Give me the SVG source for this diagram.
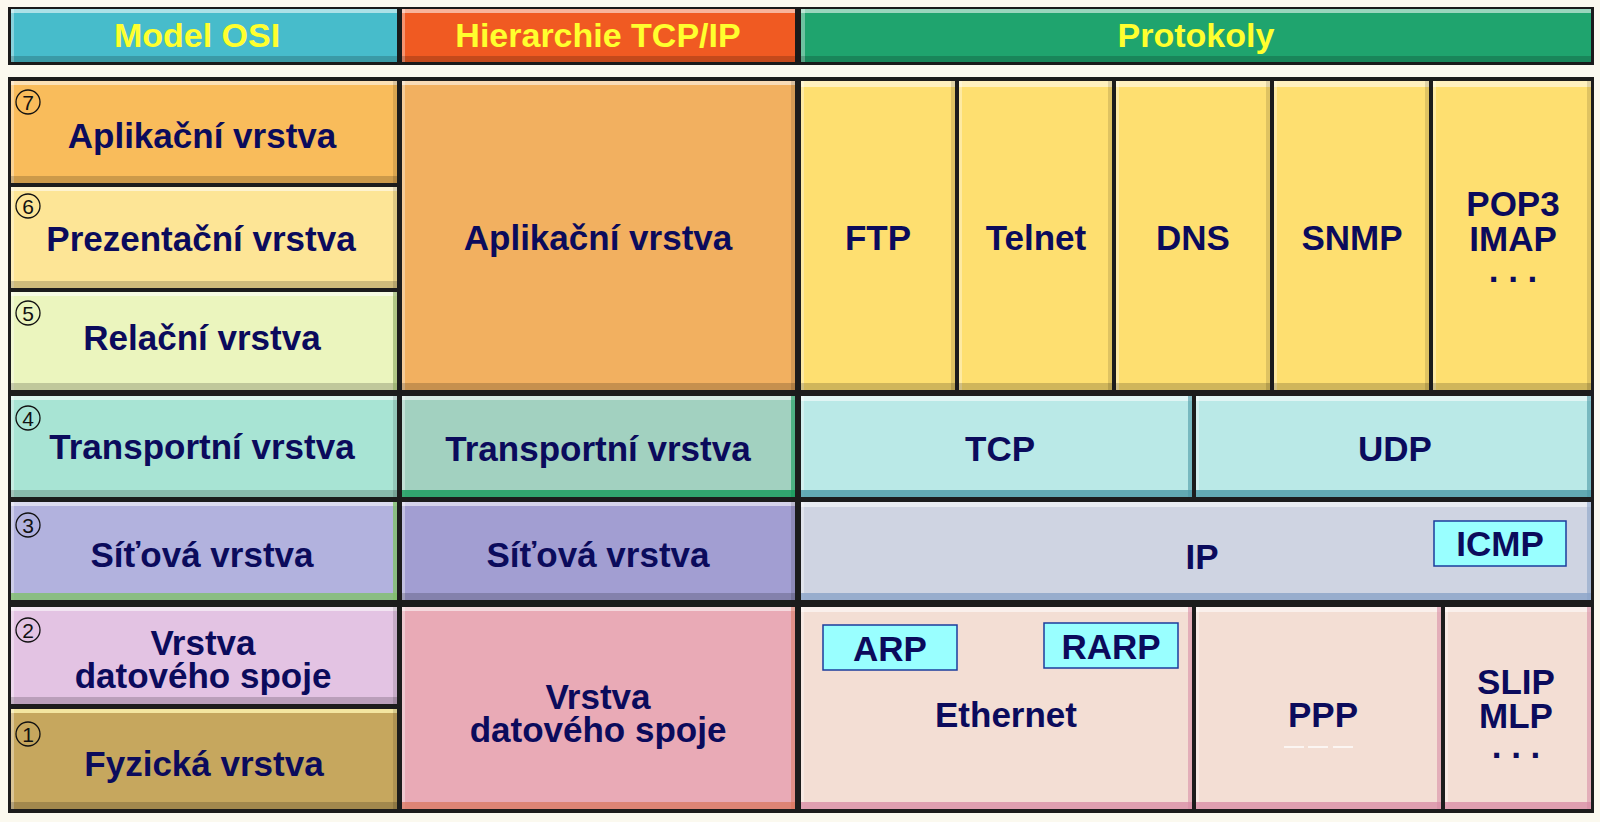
<svg xmlns="http://www.w3.org/2000/svg" width="1600" height="822" viewBox="0 0 1600 822">
<style>
.t{font-family:"Liberation Sans",Arial,sans-serif;font-weight:bold;font-size:35px;fill:#0b0b5c;text-anchor:middle}
.h{font-family:"Liberation Sans",Arial,sans-serif;font-weight:bold;font-size:34px;fill:#ffff2e;text-anchor:middle}
.n{font-family:"Liberation Sans",Arial,sans-serif;font-size:21px;fill:#111;text-anchor:middle}
.ci{fill:none;stroke:#111;stroke-width:1.3}
.hi{fill:#ffffff;opacity:.55}
.hl{fill:#ffffff;opacity:.35}
.sd{fill:#000000;opacity:.18}
.sr{fill:#000000;opacity:.12}
.bx{fill:#99ffff;stroke:#1c3c9c;stroke-width:1.5}
</style>
<rect x="0" y="0" width="1600" height="822" fill="#fbf9ef"/>

<!-- header -->
<rect x="8" y="7" width="1586" height="58" fill="#1a1a1a"/>
<g id="h-osi">
<rect x="11" y="9" width="386" height="53" fill="#47bccb"/>
<rect class="hi" x="11" y="9" width="386" height="4"/><rect class="hl" x="11" y="9" width="3" height="53"/><rect class="sd" x="11" y="56" width="386" height="6"/>
<text class="h" x="197" y="47">Model OSI</text>
</g>
<g id="h-tcpip">
<rect x="402" y="9" width="393" height="53" fill="#f05a22"/>
<rect class="hi" x="402" y="9" width="393" height="4"/><rect class="hl" x="402" y="9" width="3" height="53"/><rect class="sd" x="402" y="56" width="393" height="6"/>
<text class="h" x="598" y="47">Hierarchie TCP/IP</text>
</g>
<g id="h-proto">
<rect x="801" y="9" width="790" height="53" fill="#1fa46e"/>
<rect class="hi" x="801" y="9" width="790" height="4"/><rect class="hl" x="801" y="9" width="4" height="53"/><rect class="sd" x="801" y="56" width="790" height="6"/>
<text class="h" x="1196" y="47">Protokoly</text>
</g>

<!-- main frame -->
<rect x="8" y="77" width="1586" height="736" fill="#1c1c1c"/>

<!-- OSI column -->
<g id="osi7">
<rect x="11" y="81" width="386" height="102" fill="#f9bc5b"/>
<rect class="hi" x="11" y="81" width="386" height="4"/><rect class="hl" x="11" y="81" width="3" height="102"/><rect class="sd" x="11" y="176" width="386" height="7"/><rect class="sr" x="393" y="81" width="4" height="102"/>
<circle class="ci" cx="28" cy="102" r="12"/><text class="n" x="28" y="110">7</text>
<text class="t" x="202" y="148">Aplikační vrstva</text>
</g>
<g id="osi6">
<rect x="11" y="187" width="386" height="101" fill="#fde596"/>
<rect class="hi" x="11" y="187" width="386" height="4"/><rect class="hl" x="11" y="187" width="3" height="101"/><rect class="sd" x="11" y="281" width="386" height="7"/><rect class="sr" x="393" y="187" width="4" height="101"/>
<circle class="ci" cx="28" cy="206" r="12"/><text class="n" x="28" y="214">6</text>
<text class="t" x="201" y="251">Prezentační vrstva</text>
</g>
<g id="osi5">
<rect x="11" y="292" width="386" height="98" fill="#ebf5be"/>
<rect class="hi" x="11" y="292" width="386" height="4"/><rect class="hl" x="11" y="292" width="3" height="98"/><rect class="sd" x="11" y="383" width="386" height="7"/><rect x="393" y="292" width="4" height="98" fill="#8aa860" opacity=".6"/>
<circle class="ci" cx="28" cy="313" r="12"/><text class="n" x="28" y="321">5</text>
<text class="t" x="202" y="350">Relační vrstva</text>
</g>
<g id="osi4">
<rect x="11" y="396" width="386" height="101" fill="#a8e4d4"/>
<rect class="hi" x="11" y="396" width="386" height="4"/><rect class="hl" x="11" y="396" width="3" height="101"/><rect class="sd" x="11" y="490" width="386" height="7"/><rect class="sr" x="393" y="396" width="4" height="101"/>
<circle class="ci" cx="28" cy="418" r="12"/><text class="n" x="28" y="426">4</text>
<text class="t" x="202" y="459">Transportní vrstva</text>
</g>
<g id="osi3">
<rect x="11" y="502" width="386" height="98" fill="#b2b2de"/>
<rect class="hi" x="11" y="502" width="386" height="4"/><rect class="hl" x="11" y="502" width="3" height="98"/><rect x="11" y="593" width="386" height="7" fill="#7fbf6a" opacity=".8"/><rect x="393" y="502" width="4" height="98" fill="#7fbf6a" opacity=".8"/>
<circle class="ci" cx="28" cy="525" r="12"/><text class="n" x="28" y="533">3</text>
<text class="t" x="202" y="567">Síťová vrstva</text>
</g>
<g id="osi2">
<rect x="11" y="607" width="386" height="97" fill="#e3c3e3"/>
<rect class="hi" x="11" y="607" width="386" height="4"/><rect class="hl" x="11" y="607" width="3" height="97"/><rect class="sd" x="11" y="697" width="386" height="7"/><rect class="sr" x="393" y="607" width="4" height="97"/>
<circle class="ci" cx="28" cy="630" r="12"/><text class="n" x="28" y="638">2</text>
<text class="t" x="203" y="655">Vrstva</text>
<text class="t" x="203" y="688">datového spoje</text>
</g>
<g id="osi1">
<rect x="11" y="709" width="386" height="100" fill="#c6a75e"/>
<rect x="11" y="709" width="386" height="4" fill="#fff6b0" opacity=".8"/><rect class="hl" x="11" y="709" width="3" height="100"/><rect class="sd" x="11" y="802" width="386" height="7"/><rect class="sr" x="393" y="709" width="4" height="100"/>
<circle class="ci" cx="28" cy="734" r="12"/><text class="n" x="28" y="742">1</text>
<text class="t" x="204" y="776">Fyzická vrstva</text>
</g>

<!-- TCP/IP column -->
<g id="tcp-app">
<rect x="402" y="81" width="393" height="309" fill="#f2b060"/>
<rect class="hi" x="402" y="81" width="393" height="4"/><rect class="hl" x="402" y="81" width="3" height="309"/><rect class="sd" x="402" y="383" width="393" height="7"/><rect class="sr" x="791" y="81" width="4" height="309"/>
<text class="t" x="598" y="250">Aplikační vrstva</text>
</g>
<g id="tcp-trans">
<rect x="402" y="396" width="393" height="101" fill="#a2d1c0"/>
<rect class="hi" x="402" y="396" width="393" height="4"/><rect class="hl" x="402" y="396" width="3" height="101"/><rect x="402" y="490" width="393" height="7" fill="#159a5a" opacity=".8"/><rect x="791" y="396" width="4" height="101" fill="#159a5a" opacity=".6"/>
<text class="t" x="598" y="461">Transportní vrstva</text>
</g>
<g id="tcp-net">
<rect x="402" y="502" width="393" height="98" fill="#a29ed2"/>
<rect class="hi" x="402" y="502" width="393" height="4"/><rect class="hl" x="402" y="502" width="3" height="98"/><rect class="sd" x="402" y="593" width="393" height="7"/><rect class="sr" x="791" y="502" width="4" height="98"/>
<text class="t" x="598" y="567">Síťová vrstva</text>
</g>
<g id="tcp-link">
<rect x="402" y="607" width="393" height="202" fill="#e9aab6"/>
<rect class="hi" x="402" y="607" width="393" height="4"/><rect class="hl" x="402" y="607" width="3" height="202"/><rect x="402" y="802" width="393" height="7" fill="#d9735a" opacity=".7"/><rect x="791" y="607" width="4" height="202" fill="#d9735a" opacity=".5"/>
<text class="t" x="598" y="709">Vrstva</text>
<text class="t" x="598" y="742">datového spoje</text>
</g>

<!-- Protocols: application -->
<g id="p-ftp">
<rect x="801" y="81" width="154" height="309" fill="#fedf70"/>
<rect class="hi" x="801" y="81" width="154" height="6"/><rect class="hl" x="801" y="81" width="3" height="309"/><rect class="sd" x="801" y="383" width="154" height="7"/><rect class="sr" x="951" y="81" width="4" height="309"/>
<text class="t" x="878" y="250">FTP</text>
</g>
<g id="p-telnet">
<rect x="959" y="81" width="153" height="309" fill="#fedf70"/>
<rect class="hi" x="959" y="81" width="153" height="6"/><rect class="hl" x="959" y="81" width="3" height="309"/><rect class="sd" x="959" y="383" width="153" height="7"/><rect class="sr" x="1108" y="81" width="4" height="309"/>
<text class="t" x="1036" y="250">Telnet</text>
</g>
<g id="p-dns">
<rect x="1116" y="81" width="154" height="309" fill="#fedf70"/>
<rect class="hi" x="1116" y="81" width="154" height="6"/><rect class="hl" x="1116" y="81" width="3" height="309"/><rect class="sd" x="1116" y="383" width="154" height="7"/><rect class="sr" x="1266" y="81" width="4" height="309"/>
<text class="t" x="1193" y="250">DNS</text>
</g>
<g id="p-snmp">
<rect x="1274" y="81" width="155" height="309" fill="#fedf70"/>
<rect class="hi" x="1274" y="81" width="155" height="6"/><rect class="hl" x="1274" y="81" width="3" height="309"/><rect class="sd" x="1274" y="383" width="155" height="7"/><rect class="sr" x="1425" y="81" width="4" height="309"/>
<text class="t" x="1352" y="250">SNMP</text>
</g>
<g id="p-pop3">
<rect x="1433" y="81" width="158" height="309" fill="#fedf70"/>
<rect class="hi" x="1433" y="81" width="158" height="6"/><rect class="hl" x="1433" y="81" width="3" height="309"/><rect class="sd" x="1433" y="383" width="158" height="7"/><rect class="sr" x="1587" y="81" width="4" height="309"/>
<text class="t" x="1513" y="216">POP3</text>
<text class="t" x="1513" y="251">IMAP</text>
<text class="t" x="1513" y="282">. . .</text>
</g>

<!-- Protocols: transport -->
<g id="p-tcp">
<rect x="801" y="396" width="391" height="101" fill="#bae9e7"/>
<rect class="hi" x="801" y="396" width="391" height="5"/><rect class="hl" x="801" y="396" width="3" height="101"/><rect x="801" y="490" width="391" height="7" fill="#4c9aa6" opacity=".8"/><rect x="1188" y="396" width="4" height="101" fill="#4c9aa6" opacity=".6"/>
<text class="t" x="1000" y="461">TCP</text>
</g>
<g id="p-udp">
<rect x="1196" y="396" width="395" height="101" fill="#bae9e7"/>
<rect class="hi" x="1196" y="396" width="395" height="5"/><rect class="hl" x="1196" y="396" width="3" height="101"/><rect x="1196" y="490" width="395" height="7" fill="#4c9aa6" opacity=".8"/><rect x="1587" y="396" width="4" height="101" fill="#4c9aa6" opacity=".6"/>
<text class="t" x="1395" y="461">UDP</text>
</g>

<!-- Protocols: network -->
<g id="p-ip">
<rect x="801" y="502" width="790" height="98" fill="#cfd4e2"/>
<rect class="hi" x="801" y="502" width="790" height="5"/><rect class="hl" x="801" y="502" width="3" height="98"/><rect x="801" y="593" width="790" height="7" fill="#8aa3c8" opacity=".8"/><rect x="1587" y="502" width="4" height="98" fill="#8aa3c8" opacity=".6"/>
<text class="t" x="1202" y="569">IP</text>
</g>
<g id="p-icmp">
<rect class="bx" x="1434" y="521" width="132" height="45"/>
<text class="t" x="1500" y="556">ICMP</text>
</g>

<!-- Protocols: link -->
<g id="p-ethernet">
<rect x="801" y="607" width="391" height="202" fill="#f3ded4"/>
<rect class="hi" x="801" y="607" width="391" height="5"/><rect class="hl" x="801" y="607" width="3" height="202"/><rect x="801" y="802" width="391" height="7" fill="#d98ea6" opacity=".8"/><rect x="1188" y="607" width="4" height="202" fill="#d98ea6" opacity=".6"/>
<text class="t" x="1006" y="727">Ethernet</text>
</g>
<g id="p-arp">
<rect class="bx" x="823" y="625" width="134" height="45"/>
<text class="t" x="890" y="661">ARP</text>
</g>
<g id="p-rarp">
<rect class="bx" x="1044" y="623" width="134" height="45"/>
<text class="t" x="1111" y="659">RARP</text>
</g>
<g id="p-ppp">
<rect x="1196" y="607" width="245" height="202" fill="#f3ded4"/>
<rect class="hi" x="1196" y="607" width="245" height="5"/><rect class="hl" x="1196" y="607" width="3" height="202"/><rect x="1196" y="802" width="245" height="7" fill="#d98ea6" opacity=".8"/><rect x="1437" y="607" width="4" height="202" fill="#d98ea6" opacity=".6"/>
<text class="t" x="1323" y="727">PPP</text>
<path d="M1284 747h20M1308 747h20M1333 747h20" stroke="#ffffff" stroke-width="2" opacity=".7"/>
</g>
<g id="p-slip">
<rect x="1445" y="607" width="146" height="202" fill="#f3ded4"/>
<rect class="hi" x="1445" y="607" width="146" height="5"/><rect class="hl" x="1445" y="607" width="3" height="202"/><rect x="1445" y="802" width="146" height="7" fill="#d98ea6" opacity=".8"/><rect x="1587" y="607" width="4" height="202" fill="#d98ea6" opacity=".6"/>
<text class="t" x="1516" y="694">SLIP</text>
<text class="t" x="1516" y="728">MLP</text>
<text class="t" x="1516" y="758">. . .</text>
</g>
</svg>
